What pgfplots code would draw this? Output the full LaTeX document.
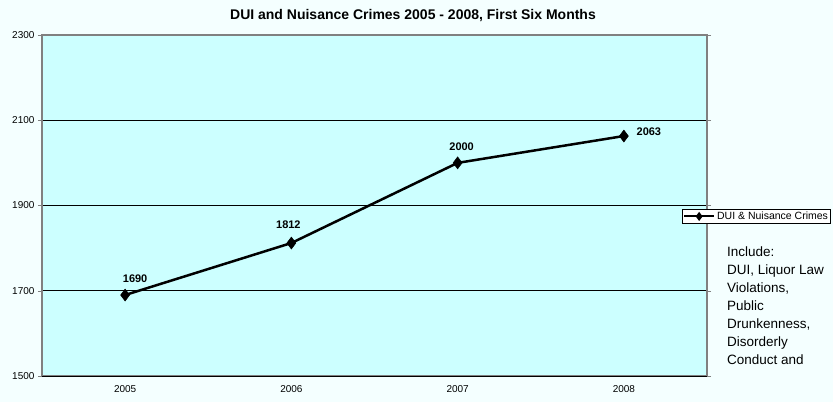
\documentclass[border=0pt]{standalone}
\usepackage{pgfplots}
\pgfplotsset{compat=1.18}
\usepackage{fontspec}
\setmainfont{Liberation Sans}
\definecolor{outerbg}{HTML}{F4FFFF}
\definecolor{plotbg}{HTML}{CCFFFF}
\definecolor{frame}{HTML}{808080}

\pgfplotstableread{
x  y
0  1690
1  1812
2  2000
3  2063
}\duidata

\begin{document}
\begin{tikzpicture}
\fill[outerbg] (0,0) rectangle (833pt,402pt);
\node[font=\bfseries\fontsize{14}{16}\selectfont] at (413pt,386pt) {DUI and Nuisance Crimes 2005 - 2008, First Six Months};
\begin{axis}[
  at={(42pt,26pt)}, anchor=south west,
  scale only axis,
  width=665pt, height=341pt,
  xmin=-0.5, xmax=3.5,
  ymin=1500, ymax=2300,
  xtick={0,1,2,3},
  xticklabels={2005,2006,2007,2008},
  major x tick style={draw=none},
  extra x ticks={0.5,1.5,2.5},
  extra x tick labels={},
  extra x tick style={tick style={black}, major tick length=4pt, tick align=outside},
  ytick={1500,1700,1900,2100,2300},
  ymajorgrids,
  major grid style={black, line width=0.6pt},
  tick align=outside,
  major tick length=4pt,
  ytick style={frame},
  tick label style={font=\fontsize{10}{11}\selectfont},
  xticklabel style={yshift=-2pt},
  /pgf/number format/assume math mode=true,
  yticklabel style={/pgf/number format/1000 sep={}},
  axis line style={frame, line width=1.2pt},
  axis background/.style={fill=plotbg},
  legend style={at={(1.186,0.468)}, anchor=east, draw=black, fill=white,
    font=\fontsize{10.5}{11}\selectfont, inner sep=0.5pt, row sep=0pt,
    legend cell align=left},
  legend image code/.code={
    \draw[#1, line width=2pt] (0pt,0pt) -- (30pt,0pt);
    \draw[#1, mark=diamond*, mark size=2.5pt, mark options={fill=black}] plot coordinates {(15pt,0pt)};
  },
  clip=false,
]
\draw[black, line width=1pt] (rel axis cs:0,0) -- (rel axis cs:1,0);
\addplot[black, line width=2.5pt, mark=diamond*, mark size=6pt,
  mark options={fill=black, line width=0.5pt},
  nodes near coords,
  point meta=explicit symbolic,
  every node near coord/.append style={font=\bfseries\fontsize{11}{12}\selectfont, anchor=center, yshift=16pt, text=black},
  coordinate style/.condition={\coordindex==0}{xshift=10pt},
  coordinate style/.condition={\coordindex==1}{xshift=-3pt, yshift=2pt},
  coordinate style/.condition={\coordindex==2}{xshift=4pt},
  coordinate style/.condition={\coordindex==3}{xshift=25pt, yshift=-12pt},
] table[x=x, y=y, meta=y] {\duidata};
\legend{DUI \& Nuisance Crimes}
\node[anchor=north west, align=left, font=\fontsize{13.5}{18}\selectfont, inner sep=0pt]
  at (rel axis cs:1.030,0.381) {Include:\\DUI, Liquor Law\\Violations,\\Public\\Drunkenness,\\Disorderly\\Conduct and};
\end{axis}
\end{tikzpicture}
\end{document}
